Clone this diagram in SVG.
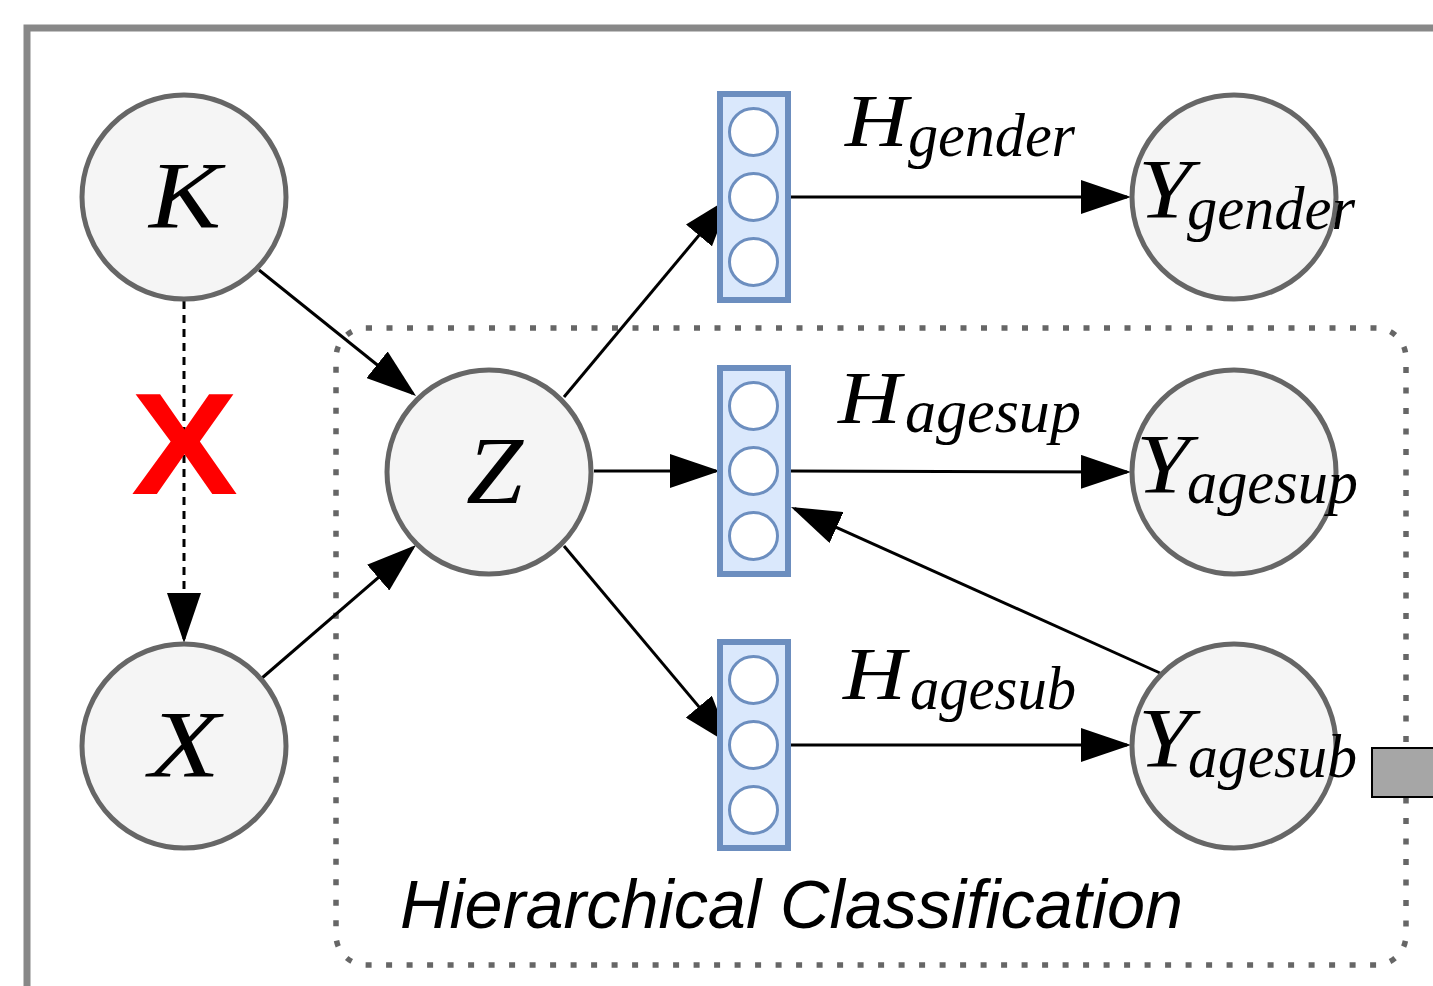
<svg xmlns="http://www.w3.org/2000/svg" width="1433" height="986" viewBox="0 0 1433 986">
  <defs>
    <marker id="arrow" markerUnits="userSpaceOnUse" markerWidth="50" markerHeight="34" viewBox="0 0 50 34" refX="46" refY="17" orient="auto">
      <path d="M0,0 L50,17 L0,34 z" fill="#000" stroke="none"/>
    </marker>
    <style>
      .node { fill: #f5f5f5; stroke: #666666; stroke-width: 5; }
      .layer { fill: #dae8fc; stroke: #6c8ebf; stroke-width: 6; }
      .unit { fill: #ffffff; stroke: #6c8ebf; stroke-width: 3; }
      .edge { fill: none; stroke: #000; stroke-width: 3; marker-end: url(#arrow); }
      .dashed { stroke-dasharray: 8 6; }
      .math { font-family: "Liberation Serif", "Times New Roman", serif; font-style: italic; fill: #000; }
      .big { font-size: 95px; }
      .mid { font-size: 84px; }
      .sm { font-size: 74px; }
      .sub { font-size: 61px; }
    </style>
  </defs>
  <rect width="1433" height="986" fill="#ffffff"/>

  <!-- outer frame -->
  <rect id="frame" x="27" y="28" width="1500" height="1100" fill="none" stroke="#888888" stroke-width="7"/>

  <!-- hierarchical classification group -->
  <g id="hier-group">
    <rect x="336" y="328" width="1070" height="637" rx="30" ry="30" fill="none" stroke="#666666" stroke-width="5.5" stroke-dasharray="6 14.5"/>
    <text x="400" y="928" font-family="'Liberation Sans', Arial, sans-serif" font-style="italic" font-size="68" fill="#000" textLength="783" lengthAdjust="spacingAndGlyphs">Hierarchical Classification</text>
  </g>

  <!-- small gray block at right -->
  <rect id="side-block" x="1372" y="748" width="80" height="49" fill="#a6a6a6" stroke="#000" stroke-width="2"/>

  <!-- connectors -->
  <g id="connectors">
    <line class="edge" x1="259" y1="270" x2="412.9" y2="393.5"/>
    <line class="edge dashed" x1="184" y1="301" x2="184" y2="639"/>
    <line class="edge" x1="262" y1="678" x2="413" y2="547.6"/>
    <line class="edge" x1="564" y1="397" x2="728.4" y2="200.1"/>
    <line class="edge" x1="594" y1="471" x2="716" y2="471"/>
    <line class="edge" x1="564" y1="546" x2="728.4" y2="741.9"/>
    <line class="edge" x1="777" y1="197" x2="1127" y2="197"/>
    <line class="edge" x1="790" y1="471" x2="1127" y2="472"/>
    <line class="edge" x1="790" y1="745" x2="1127" y2="745"/>
    <line class="edge" x1="1160" y1="673" x2="794.6" y2="508.6"/>
    <!-- red cross on the K->X edge -->
    <text id="no-edge" x="131" y="494" font-family="'Liberation Sans', Arial, sans-serif" font-weight="bold" font-size="145" fill="#ff0000" textLength="107" lengthAdjust="spacingAndGlyphs">X</text>
    <!-- edge labels -->
    <g id="label-h-gender">
      <text class="math sm" x="845" y="146" textLength="63" lengthAdjust="spacingAndGlyphs">H</text>
      <text class="math sub" x="908" y="156" textLength="167" lengthAdjust="spacingAndGlyphs">gender</text>
    </g>
    <g id="label-h-agesup">
      <text class="math sm" x="838" y="423" textLength="63" lengthAdjust="spacingAndGlyphs">H</text>
      <text class="math sub" x="905" y="432" textLength="176" lengthAdjust="spacingAndGlyphs">agesup</text>
    </g>
    <g id="label-h-agesub">
      <text class="math sm" x="843" y="699" textLength="63" lengthAdjust="spacingAndGlyphs">H</text>
      <text class="math sub" x="910" y="709" textLength="166" lengthAdjust="spacingAndGlyphs">agesub</text>
    </g>
  </g>

  <!-- nodes -->
  <g id="node-K">
    <circle class="node" cx="184" cy="197" r="102"/>
    <text class="math big" x="149" y="228" textLength="72" lengthAdjust="spacingAndGlyphs">K</text>
  </g>
  <g id="node-X">
    <circle class="node" cx="184" cy="746" r="102"/>
    <text class="math big" x="149" y="777" textLength="71" lengthAdjust="spacingAndGlyphs">X</text>
  </g>
  <g id="node-Z">
    <circle class="node" cx="489" cy="472" r="102"/>
    <text class="math big" x="466" y="503" textLength="57" lengthAdjust="spacingAndGlyphs">Z</text>
  </g>

  <g id="layer-gender">
    <rect class="layer" x="720" y="94" width="68" height="206"/>
    <ellipse class="unit" cx="753.5" cy="132" rx="24" ry="23.5"/>
    <ellipse class="unit" cx="753.5" cy="197" rx="24" ry="23.5"/>
    <ellipse class="unit" cx="753.5" cy="262" rx="24" ry="23.5"/>
  </g>
  <g id="layer-agesup">
    <rect class="layer" x="720" y="368" width="68" height="206"/>
    <ellipse class="unit" cx="753.5" cy="406" rx="24" ry="23.5"/>
    <ellipse class="unit" cx="753.5" cy="471" rx="24" ry="23.5"/>
    <ellipse class="unit" cx="753.5" cy="536" rx="24" ry="23.5"/>
  </g>
  <g id="layer-agesub">
    <rect class="layer" x="720" y="642" width="68" height="206"/>
    <ellipse class="unit" cx="753.5" cy="680" rx="24" ry="23.5"/>
    <ellipse class="unit" cx="753.5" cy="745" rx="24" ry="23.5"/>
    <ellipse class="unit" cx="753.5" cy="810" rx="24" ry="23.5"/>
  </g>

  <g id="node-Y-gender">
    <circle class="node" cx="1234" cy="197" r="102"/>
    <text class="math mid" x="1138" y="218" textLength="54" lengthAdjust="spacingAndGlyphs">Y</text>
    <text class="math sub" x="1187" y="229" textLength="168" lengthAdjust="spacingAndGlyphs">gender</text>
  </g>
  <g id="node-Y-agesup">
    <circle class="node" cx="1234" cy="472" r="102"/>
    <text class="math mid" x="1136" y="493" textLength="54" lengthAdjust="spacingAndGlyphs">Y</text>
    <text class="math sub" x="1187" y="503" textLength="171" lengthAdjust="spacingAndGlyphs">agesup</text>
  </g>
  <g id="node-Y-agesub">
    <circle class="node" cx="1234" cy="746" r="102"/>
    <text class="math mid" x="1138" y="767" textLength="54" lengthAdjust="spacingAndGlyphs">Y</text>
    <text class="math sub" x="1188" y="777" textLength="169" lengthAdjust="spacingAndGlyphs">agesub</text>
  </g>
</svg>
